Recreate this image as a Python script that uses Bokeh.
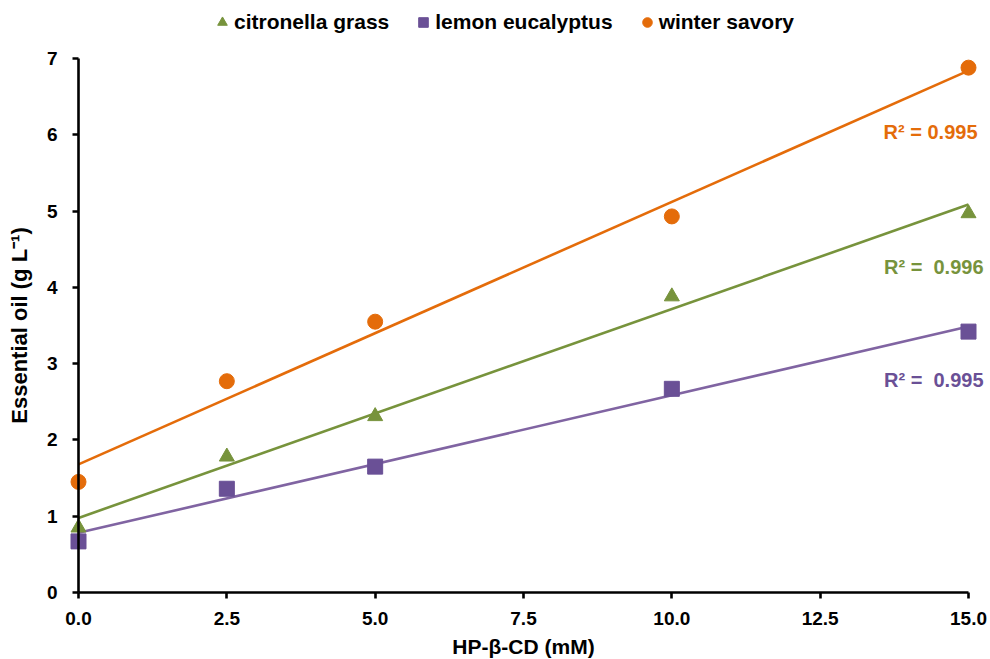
from bokeh.plotting import figure
from bokeh.models import (Legend, LegendItem, FixedTicker, NumeralTickFormatter, Label,
                          Range1d, LinearAxis)
from bokeh.embed import file_html
from bokeh.resources import INLINE
import numpy as np

conc = [0.0, 2.5, 5.0, 10.0, 15.0]
citronella = [0.85, 1.78, 2.31, 3.88, 4.97]
eucalyptus = [0.67, 1.36, 1.65, 2.67, 3.42]
savory = [1.45, 2.77, 3.55, 4.93, 6.88]
x_ticks = [0, 2.5, 5, 7.5, 10, 12.5, 15]
y_ticks = [0, 1, 2, 3, 4, 5, 6, 7]
r2_labels = {"savory": "R² = 0.995", "citronella": "R² = \u00a00.996", "eucalyptus": "R² = \u00a00.995"}

FONT = "Liberation Sans"
ORANGE = "#E46C0A"
GREEN = "#77933C"
PURPLE_L = "#8064A2"
PURPLE_M = "#6A5096"

# Whole figure is the frame; axes sit at data zero so that markers are not clipped.
W, H = 990, 659
L, R, T, B = 78, 968, 58, 592
xs_ = (R - L) / 15.0
ys_ = (B - T) / 7.0
x_range = Range1d(-L / xs_, 15 + (W - R) / xs_)
y_range = Range1d(-(H - B) / ys_, 7 + T / ys_)

p = figure(frame_width=W, frame_height=H, output_backend="svg", toolbar_location=None,
           x_range=x_range, y_range=y_range, min_border=0,
           x_axis_location=None, y_axis_location=None)
p.outline_line_color = None
p.xgrid.visible = False
p.ygrid.visible = False
p.background_fill_color = "white"

def fit(x, y):
    m, b = np.polyfit(np.array(x), np.array(y), 1)
    xs = np.array([x[0], x[-1]])
    return xs, m * xs + b

for ys, col in [(savory, ORANGE), (citronella, GREEN), (eucalyptus, PURPLE_L)]:
    fx, fy = fit(conc, ys)
    p.line(fx, fy, line_color=col, line_width=2.6)

r_c = p.scatter(conc, citronella, marker="triangle", size=15, fill_color=GREEN, line_color=GREEN)
r_e = p.scatter(conc, eucalyptus, marker="square", size=15, fill_color=PURPLE_M, line_color=PURPLE_M)
r_s = p.scatter(conc, savory, marker="circle", size=15, fill_color=ORANGE, line_color=ORANGE)

legend = Legend(items=[LegendItem(label="citronella grass", renderers=[r_c]),
                       LegendItem(label="lemon eucalyptus", renderers=[r_e]),
                       LegendItem(label="winter savory", renderers=[r_s])],
                orientation="horizontal", location=(210, 624),
                border_line_color=None, background_fill_alpha=0,
                label_text_font=FONT, label_text_font_style="bold", label_text_font_size="21px",
                label_text_color="black",
                glyph_width=24, glyph_height=26, label_standoff=0, spacing=22,
                padding=0, margin=0)
p.add_layout(legend, "center")

for lbl, yv, col, off in [(r2_labels["savory"], 6.04, ORANGE, 9),
                          (r2_labels["citronella"], 4.27, GREEN, 15),
                          (r2_labels["eucalyptus"], 2.78, PURPLE_M, 15)]:
    p.add_layout(Label(x=15, y=yv, text=lbl, text_align="right", text_baseline="middle",
                       x_offset=off, text_color=col, text_font=FONT, text_font_style="bold",
                       text_font_size="20px"))

xaxis = LinearAxis(fixed_location=0, bounds=(0, 15))
yaxis = LinearAxis(fixed_location=0, bounds=(0, 7))
p.add_layout(xaxis, "below")
p.add_layout(yaxis, "left")

for ax in (xaxis, yaxis):
    ax.axis_line_width = 2.6
    ax.axis_line_color = "black"
    ax.major_tick_line_width = 2.6
    ax.major_tick_out = 6
    ax.major_tick_in = 0
    ax.minor_tick_line_color = None
    ax.major_label_text_font = FONT
    ax.major_label_text_font_style = "bold"
    ax.major_label_text_font_size = "19px"
    ax.major_label_text_color = "black"
    ax.axis_label_text_font = FONT
    ax.axis_label_text_font_style = "bold"
    ax.axis_label_text_color = "black"

xaxis.ticker = FixedTicker(ticks=x_ticks)
xaxis.formatter = NumeralTickFormatter(format="0.0")
yaxis.ticker = FixedTicker(ticks=y_ticks)
yaxis.formatter = NumeralTickFormatter(format="0")
xaxis.axis_label = "HP-β-CD (mM)"
yaxis.axis_label = "Essential oil (g L⁻¹)"
xaxis.axis_label_text_font_size = "21px"
yaxis.axis_label_text_font_size = "22px"
xaxis.major_label_standoff = 13
xaxis.axis_label_standoff = 7
yaxis.major_label_standoff = 15
yaxis.axis_label_standoff = 12

open("out.html", "w").write(file_html(p, INLINE))
